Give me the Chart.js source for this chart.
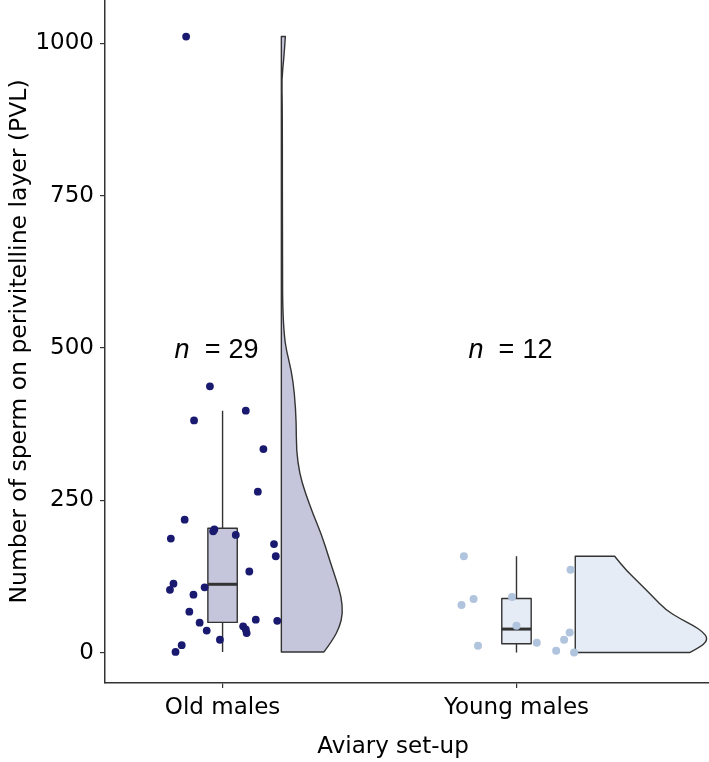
<!DOCTYPE html>
<html>
<head>
<meta charset="utf-8">
<script src="https://cdn.jsdelivr.net/npm/chart.js@4.4.1/dist/chart.umd.min.js"></script>
<style>
  html, body { margin: 0; padding: 0; background: #fff; }
  #wrap { width: 709px; height: 762px; }
</style>
</head>
<body>
<div id="wrap"><canvas id="chart"></canvas></div>
<script>
// Raincloud plot: sperm on PVL by aviary set-up

const groups = ["Old males", "Young males"];
const groupCounts = [29, 12];
const yTicks = [0, 250, 500, 750, 1000];

// jittered raw points (value + horizontal jitter offset from the group centre)
const oldValues = [437, 381, 397, 334, 264, 218, 187, 202, 199, 193, 178, 158, 133, 113, 103, 107, 95, 67, 49, 36, 54, 52, 43, 38, 32, 21, 12, 1, 1011];
const oldJitter = [-0.043, -0.097, 0.079, 0.139, 0.12, -0.129, -0.176, -0.028, -0.032, 0.045, 0.175, 0.181, 0.091, -0.167, -0.179, -0.061, -0.099, -0.113, -0.078, -0.054, 0.113, 0.186, 0.07, 0.079, 0.082, -0.009, -0.139, -0.16, -0.124];
const youngValues = [158, 136, 88, 78, 91, 44, 33, 21, 16, 11, 3, 0];
const youngJitter = [-0.179, 0.184, -0.146, -0.187, -0.015, 0, 0.181, 0.162, 0.069, -0.131, 0.135, 0.196];

// box stats: [lower whisker, Q1, median, Q3, upper whisker]
const oldBox = [1, 49.5, 112, 204, 397];
const youngBox = [0, 14.4, 38.5, 88.8, 158];

// half violins: density outline (value, half-width in x units)
const oldViolinY = [1, 20.5, 42, 64, 91.5, 119, 152, 195, 228, 266, 294, 332, 376, 425, 463, 496, 520, 560, 620, 900, 940, 975, 1011];
const oldViolinW = [0.145, 0.175, 0.198, 0.209, 0.204, 0.187, 0.164, 0.136, 0.107, 0.079, 0.062, 0.051, 0.051, 0.045, 0.034, 0.017, 0.01, 0.005, 0.0035, 0.0035, 0.001, 0.0085, 0.0136];
const youngViolinY = [0, 10.6, 23.2, 34, 45, 56, 69.7, 91.5, 113.4, 135.2, 158];
const youngViolinW = [0.389, 0.434, 0.451, 0.434, 0.4, 0.355, 0.309, 0.264, 0.219, 0.173, 0.134];

const pointColors = ["#191970", "#b0c4de"];
const fillColors = ["#c5c5db", "#e6ecf5"];
const outline = "#333333";
const fontFamily = "'DejaVu Sans', Verdana, sans-serif";

function toPoints(values, jitter, center) {
  return values.map((v, i) => ({ x: center + jitter[i], y: v }));
}

const raincloudPlugin = {
  id: "raincloud",
  beforeDatasetsDraw(chart) {
    const { ctx, chartArea, scales } = chart;
    const xs = scales.x, ys = scales.y;
    ctx.save();
    ctx.beginPath();
    ctx.rect(chartArea.left, chartArea.top, chartArea.right - chartArea.left, chartArea.bottom - chartArea.top);
    ctx.clip();

    const violins = [[oldViolinY, oldViolinW], [youngViolinY, youngViolinW]];
    violins.forEach(([vy, vw], g) => {
      const base = g + 1 + 0.2;
      const left = xs.getPixelForValue(base);
      const pts = vy.map((v, i) => [xs.getPixelForValue(base + vw[i]), ys.getPixelForValue(v)]);
      ctx.beginPath();
      ctx.moveTo(left, pts[0][1]);
      ctx.lineTo(pts[0][0], pts[0][1]);
      for (let i = 1; i < pts.length - 1; i++) {
        const mx = (pts[i][0] + pts[i + 1][0]) / 2;
        const my = (pts[i][1] + pts[i + 1][1]) / 2;
        ctx.quadraticCurveTo(pts[i][0], pts[i][1], mx, my);
      }
      const last = pts[pts.length - 1];
      ctx.lineTo(last[0], last[1]);
      ctx.lineTo(left, last[1]);
      ctx.closePath();
      ctx.fillStyle = fillColors[g];
      ctx.fill();
      ctx.lineWidth = 1.4;
      ctx.strokeStyle = outline;
      ctx.lineJoin = "round";
      ctx.stroke();
    });

    [oldBox, youngBox].forEach((b, g) => {
      const c = xs.getPixelForValue(g + 1);
      const l = xs.getPixelForValue(g + 1 - 0.05);
      const r = xs.getPixelForValue(g + 1 + 0.05);
      const [lo, q1, med, q3, hi] = b.map((v) => ys.getPixelForValue(v));
      ctx.strokeStyle = outline;
      ctx.lineWidth = 1.4;
      ctx.beginPath();
      ctx.moveTo(c, lo); ctx.lineTo(c, q1);
      ctx.moveTo(c, q3); ctx.lineTo(c, hi);
      ctx.stroke();
      ctx.fillStyle = fillColors[g];
      ctx.fillRect(l, q3, r - l, q1 - q3);
      ctx.strokeRect(l, q3, r - l, q1 - q3);
      ctx.lineWidth = 3;
      ctx.beginPath();
      ctx.moveTo(l, med); ctx.lineTo(r, med);
      ctx.stroke();
    });
    ctx.restore();
  },
  afterDatasetsDraw(chart) {
    const { ctx, scales } = chart;
    ctx.save();
    ctx.fillStyle = "#000";
    ctx.textBaseline = "alphabetic";
    groupCounts.forEach((n, g) => {
      const cx = scales.x.getPixelForValue(g + 1);
      const by = scales.y.getPixelForValue(500) + 10;
      ctx.font = "italic 27px 'Liberation Sans', Arial, sans-serif";
      ctx.textAlign = "left";
      ctx.fillText("n", cx - 48, by);
      ctx.font = "27px 'Liberation Sans', Arial, sans-serif";
      ctx.textAlign = "center";
      ctx.fillText("=", cx - 10, by);
      ctx.textAlign = "left";
      ctx.fillText(String(n), cx + 6, by);
    });
    ctx.restore();
  },
  afterDraw(chart) {
    const { ctx } = chart;
    ctx.save();
    ctx.font = "23px " + fontFamily;
    ctx.fillStyle = "#000";
    ctx.textAlign = "center";
    ctx.textBaseline = "alphabetic";
    ctx.fillText("Aviary set-up", 393, 753);
    ctx.restore();
  }
};

new Chart(document.getElementById("chart"), {
  type: "scatter",
  data: {
    datasets: [
      {
        label: groups[0],
        data: toPoints(oldValues, oldJitter, 1),
        backgroundColor: pointColors[0],
        borderWidth: 0,
        pointRadius: 3.9,
      },
      {
        label: groups[1],
        data: toPoints(youngValues, youngJitter, 2),
        backgroundColor: pointColors[1],
        borderWidth: 0,
        pointRadius: 4,
      },
    ],
  },
  options: {
    responsive: true,
    maintainAspectRatio: false,
    animation: false,
    layout: { padding: 0, autoPadding: false },
    plugins: {
      legend: { display: false },
      tooltip: { enabled: false },
    },
    scales: {
      x: {
        type: "linear",
        min: 0.6,
        max: 2.655,
        afterBuildTicks: (scale) => {
          scale.ticks = [{ value: 1 }, { value: 2 }];
        },
        afterFit: (scale) => {
          scale.height = 79;
          scale.paddingLeft = 0;
          scale.paddingRight = 0;
        },
        border: { display: true, color: outline, width: 1.5 },
        grid: { display: true, drawOnChartArea: false, drawTicks: true, tickLength: 5, color: outline, lineWidth: 1.2 },
        ticks: {
          autoSkip: false,
          maxRotation: 0,
          padding: 6,
          color: "#000",
          font: { family: fontFamily, size: 23 },
          callback: (v) => groups[v - 1],
        },
      },
      y: {
        min: -50,
        max: 1071,
        afterBuildTicks: (scale) => {
          scale.ticks = yTicks.map((v) => ({ value: v }));
        },
        afterFit: (scale) => {
          scale.width = 105;
          scale.paddingTop = 0;
          scale.paddingBottom = 0;
        },
        border: { display: true, color: outline, width: 1.5 },
        grid: { display: true, drawOnChartArea: false, drawTicks: true, tickLength: 5, color: outline, lineWidth: 1.2 },
        ticks: {
          padding: 6,
          color: "#000",
          font: { family: fontFamily, size: 23 },
          callback: (v) => String(v),
        },
        title: {
          display: true,
          text: "Number of sperm on perivitelline layer (PVL)",
          color: "#000",
          font: { family: fontFamily, size: 23.5 },
          padding: { top: 6, bottom: 0 },
        },
      },
    },
  },
  plugins: [raincloudPlugin],
});
</script>
</body>
</html>
